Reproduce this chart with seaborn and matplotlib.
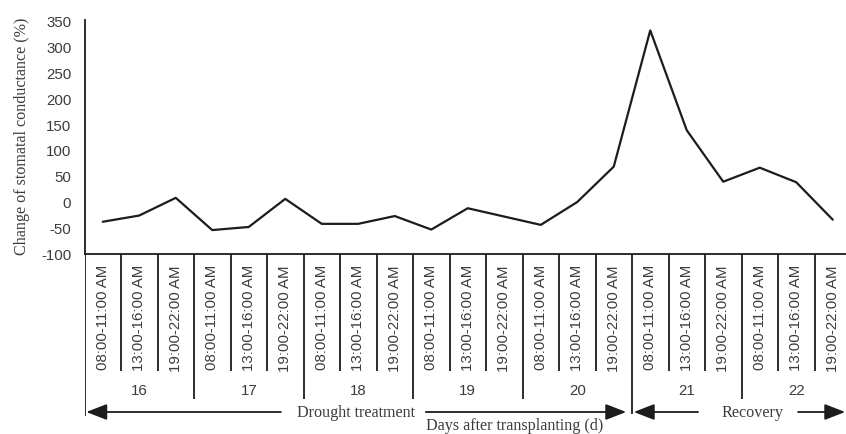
import numpy as np
import pandas as pd
import matplotlib
matplotlib.use("Agg")
import matplotlib.pyplot as plt
import seaborn as sns

# ---- data -------------------------------------------------------------
days = [16, 17, 18, 19, 20, 21, 22]
time_slots = ["08:00-11:00 AM", "13:00-16:00 AM", "19:00-22:00 AM"]
change_pct = [-38, -26, 8, -54, -48, 6, -42, -42, -27, -53, -12, -28,
              -44, 0, 68, 330, 138, 39, 66, 38, -34]
phase_names = ["Drought treatment", "Recovery"]
phase_days = [5, 2]                      # number of days in each phase
y_ticks = [-100, -50, 0, 50, 100, 150, 200, 250, 300, 350]

# ---- styling ----------------------------------------------------------
sns.set_style("white")
plt.rcParams["font.family"] = ["Liberation Sans", "DejaVu Sans"]
plt.rcParams["axes.unicode_minus"] = False
TXT = "#3c3c3c"
LINE = "#1c1c1c"
SERIF = ["Liberation Serif", "DejaVu Serif"]

W, H = 846, 435
fig = plt.figure(figsize=(W / 100, H / 100), dpi=100)

n = len(days) * len(time_slots)
slot_w = 36.5
left_px, axis_px, top_px = 84.5, 255, 21

df = pd.DataFrame({"pos": np.arange(n), "change": change_pct})

ax = fig.add_axes([left_px / W, (H - axis_px) / H,
                   n * slot_w / W, (axis_px - top_px) / H])
sns.lineplot(data=df, x="pos", y="change", ax=ax, color=LINE, linewidth=1.6)
ax.set_xlim(-0.5, n - 0.5)
ax.set_ylim(-100, 350)
ax.set_yticks(y_ticks)
ax.set_xticks([])
ax.set_xlabel("")
ax.set_ylabel("")
for s in ("top", "right"):
    ax.spines[s].set_visible(False)
for s in ("left", "bottom"):
    ax.spines[s].set_color(LINE)
    ax.spines[s].set_linewidth(1.3)
ax.tick_params(axis="y", direction="in", length=4, width=1.1, color=LINE,
               pad=9.5, labelsize=10.8, labelcolor=TXT)

fig.text(22 / W, 1 - 136 / H, "Change of stomatal conductance (%)",
         rotation=90, ha="center", va="center", fontsize=11.6,
         family=SERIF, color=TXT)

# ---- category table under the axis -----------------------------------
tb = fig.add_axes([left_px / W, 0, n * slot_w / W, (H - axis_px) / H])
tb.set_xlim(-0.5, n - 0.5)
tb.set_ylim(H - axis_px, 0)
tb.axis("off")

for i in range(n):
    tb.text(i, 10, time_slots[i % 3], rotation=90, ha="center", va="top",
            fontsize=10.8, color=TXT)

phase_edge = phase_days[0] * 3          # slot index where recovery starts
for k in range(n):
    x = k - 0.5
    if k == 0:
        y1 = 162
    elif k == phase_edge:
        y1 = 160
    elif k % 3 == 0:
        y1 = 145
    else:
        y1 = 117
    tb.vlines(x, 0, y1, color=LINE, linewidth=1.3)

for d, day in enumerate(days):
    tb.text(d * 3 + 1, 136, str(day), ha="center", va="center",
            fontsize=10.8, color=TXT)

# phase arrows with labels
arrow_y = 158
arrow_kw = dict(arrowstyle="-|>,head_length=0.9,head_width=0.35",
                color=LINE, lw=1.3, mutation_scale=14, shrinkA=0, shrinkB=0)
start = -0.5
phase_layout = [(6.94, -2.06, 1.91), (17.79, -1.48, 1.26)]
for name, nd, (cx, lgap, rgap) in zip(phase_names, phase_days, phase_layout):
    end = start + nd * 3
    tb.annotate("", xy=(start + 0.05, arrow_y), xytext=(cx + lgap, arrow_y),
                arrowprops=arrow_kw)
    tb.annotate("", xy=(end - 0.16, arrow_y), xytext=(cx + rgap, arrow_y),
                arrowprops=arrow_kw)
    tb.text(cx, arrow_y + 4.5, name, ha="center", va="baseline",
            fontsize=11.6, family=SERIF, color=TXT)
    start = end

tb.text(11.28, 175.5, "Days after transplanting (d)", ha="center",
        va="baseline", fontsize=11.6, family=SERIF, color=TXT)

fig.savefig("out.png", dpi=100)
